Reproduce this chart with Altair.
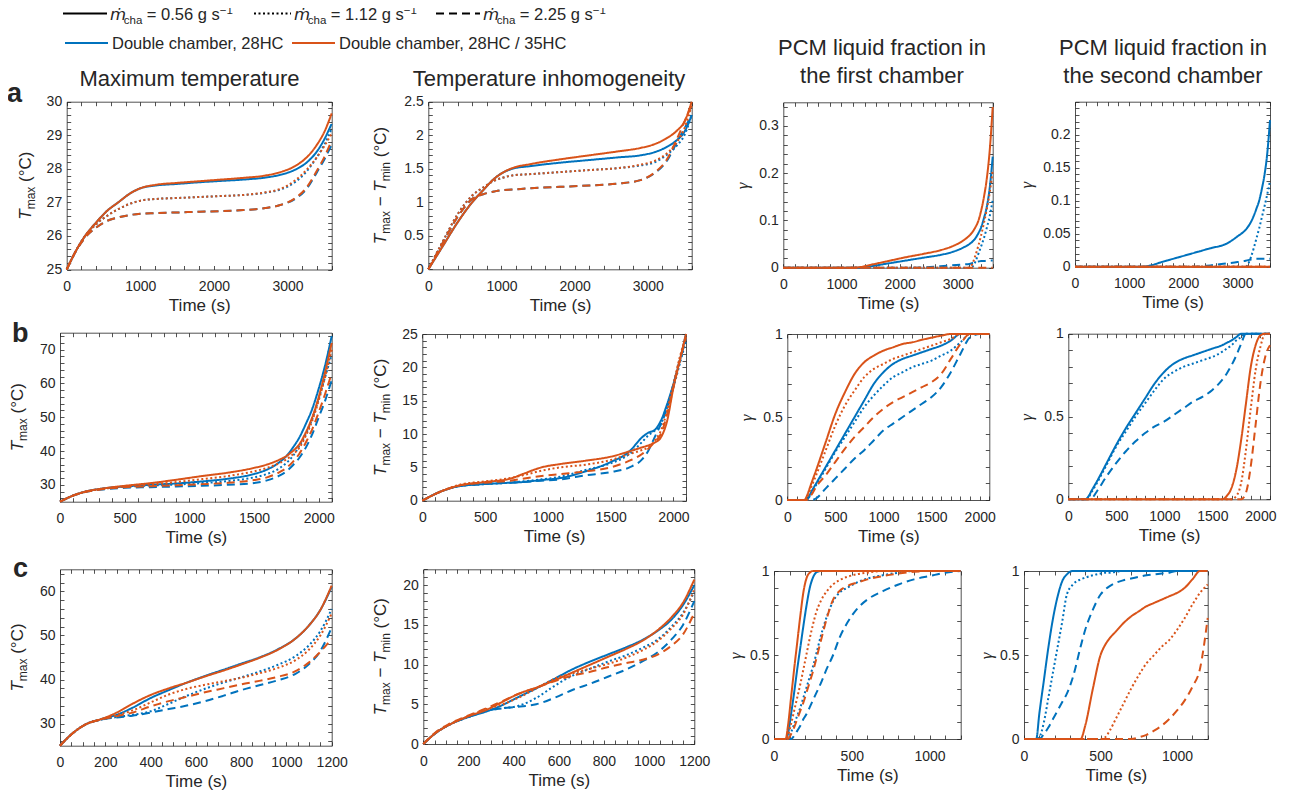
import altair as alt
import pandas as pd

# ---------------------------------------------------------------- data
CASES = ["Double chamber, 28HC", "Double chamber, 28HC / 35HC"]
FLOWS = ["0.56", "1.12", "2.25"]

# Row a : maximum temperature (degC)
A1_TIME = [0, 100, 250, 400, 550, 700, 850, 1000, 1200, 1500, 1800, 2100, 2400, 2700, 2900, 3100, 3250, 3400, 3500, 3600]
A1_BLUE_056 = [25, 25.45, 26.0, 26.4, 26.75, 27.0, 27.25, 27.42, 27.5, 27.55, 27.6, 27.64, 27.68, 27.74, 27.82, 27.97, 28.17, 28.52, 28.88, 29.35]
A1_BLUE_112 = [25, 25.45, 26.0, 26.35, 26.6, 26.8, 26.95, 27.05, 27.1, 27.13, 27.16, 27.19, 27.22, 27.29, 27.38, 27.6, 27.9, 28.35, 28.72, 29.2]
A1_BLUE_225 = [25, 25.45, 25.95, 26.25, 26.45, 26.55, 26.62, 26.66, 26.68, 26.7, 26.72, 26.74, 26.77, 26.83, 26.92, 27.1, 27.38, 27.9, 28.28, 28.72]
A1_ORNG_056 = [25, 25.45, 26.0, 26.4, 26.75, 27.0, 27.25, 27.42, 27.52, 27.58, 27.63, 27.68, 27.73, 27.8, 27.9, 28.08, 28.32, 28.72, 29.1, 29.65]
A1_ORNG_112 = [25, 25.45, 26.0, 26.35, 26.6, 26.8, 26.95, 27.05, 27.1, 27.13, 27.16, 27.19, 27.22, 27.3, 27.4, 27.65, 27.95, 28.35, 28.68, 29.05]
A1_ORNG_225 = [25, 25.45, 25.95, 26.25, 26.45, 26.55, 26.62, 26.66, 26.68, 26.7, 26.72, 26.74, 26.77, 26.83, 26.92, 27.12, 27.42, 27.95, 28.35, 28.85]

# Row a : temperature inhomogeneity (degC)
A2_TIME = [0, 200, 400, 600, 750, 900, 1000, 1150, 1400, 1800, 2200, 2600, 2900, 3100, 3250, 3400, 3500, 3600]
A2_BLUE_056 = [0, 0.35, 0.7, 1.0, 1.18, 1.35, 1.43, 1.5, 1.54, 1.59, 1.63, 1.67, 1.7, 1.75, 1.82, 1.93, 2.05, 2.3]
A2_BLUE_112 = [0, 0.42, 0.82, 1.1, 1.22, 1.32, 1.36, 1.4, 1.42, 1.45, 1.48, 1.51, 1.55, 1.6, 1.7, 1.85, 2.0, 2.3]
A2_BLUE_225 = [0, 0.4, 0.78, 1.05, 1.12, 1.16, 1.18, 1.19, 1.21, 1.23, 1.25, 1.28, 1.33, 1.44, 1.6, 1.9, 2.1, 2.3]
A2_ORNG_056 = [0, 0.35, 0.7, 1.0, 1.18, 1.35, 1.43, 1.51, 1.57, 1.64, 1.7, 1.76, 1.81, 1.87, 1.95, 2.07, 2.2, 2.5]
A2_ORNG_112 = [0, 0.42, 0.82, 1.1, 1.22, 1.32, 1.36, 1.4, 1.42, 1.45, 1.48, 1.51, 1.56, 1.62, 1.72, 1.9, 2.1, 2.45]
A2_ORNG_225 = [0, 0.4, 0.78, 1.05, 1.12, 1.16, 1.18, 1.19, 1.21, 1.23, 1.25, 1.28, 1.33, 1.45, 1.62, 1.95, 2.2, 2.45]

# Row a : liquid fraction, first chamber
A3_TIME = [0, 1200, 1300, 1500, 1800, 2100, 2400, 2700, 2900, 3100, 3200, 3250, 3300, 3350, 3400, 3450, 3500, 3550, 3600]
A3_BLUE_056 = [0, 0, 0, 0.003, 0.009, 0.015, 0.021, 0.027, 0.033, 0.043, 0.05, 0.055, 0.062, 0.072, 0.085, 0.105, 0.13, 0.17, 0.235]
A3_BLUE_112 = [0, 0, 0, 0, 0, 0, 0, 0, 0, 0, 0, 0.002, 0.012, 0.028, 0.045, 0.063, 0.085, 0.11, 0.143]
A3_BLUE_225 = [0, 0, 0, 0, 0, 0, 0.0005, 0.003, 0.005, 0.007, 0.008, 0.01, 0.012, 0.013, 0.014, 0.014, 0.015, 0.015, 0.015]
A3_ORNG_056 = [0, 0, 0.001, 0.006, 0.014, 0.022, 0.029, 0.037, 0.045, 0.058, 0.068, 0.075, 0.085, 0.098, 0.12, 0.15, 0.19, 0.25, 0.34]
A3_ORNG_112 = [0, 0, 0, 0, 0, 0, 0, 0, 0, 0, 0, 0.008, 0.025, 0.045, 0.068, 0.095, 0.125, 0.16, 0.207]
A3_ORNG_225 = [0, 0, 0, 0, 0, 0, 0, 0, 0, 0, 0, 0, 0, 0, 0, 0, 0, 0, 0]

# Row a : liquid fraction, second chamber
A4_TIME = [0, 1250, 1400, 1600, 1900, 2200, 2500, 2800, 3000, 3150, 3250, 3300, 3350, 3400, 3450, 3500, 3550, 3600]
A4_BLUE_056 = [0, 0, 0.002, 0.007, 0.014, 0.021, 0.028, 0.035, 0.046, 0.056, 0.068, 0.077, 0.088, 0.1, 0.118, 0.14, 0.172, 0.222]
A4_BLUE_112 = [0, 0, 0, 0, 0, 0, 0, 0, 0, 0, 0.015, 0.028, 0.043, 0.058, 0.075, 0.092, 0.11, 0.13]
A4_BLUE_225 = [0, 0, 0, 0, 0, 0, 0.002, 0.005, 0.007, 0.009, 0.011, 0.012, 0.012, 0.012, 0.012, 0.012, 0.012, 0.012]
A4_ORNG_056 = [0, 0, 0, 0, 0, 0, 0, 0, 0, 0, 0, 0, 0, 0, 0, 0, 0, 0]
A4_ORNG_112 = [0, 0, 0, 0, 0, 0, 0, 0, 0, 0, 0, 0, 0, 0, 0, 0, 0, 0]
A4_ORNG_225 = [0, 0, 0, 0, 0, 0, 0, 0, 0, 0, 0, 0, 0, 0, 0, 0, 0, 0]

# Row b : maximum temperature
B1_TIME = [0, 100, 200, 350, 500, 700, 900, 1100, 1300, 1500, 1600, 1700, 1750, 1800, 1850, 1900, 1950, 2000, 2050, 2100]
B1_BLUE_056 = [25, 26.8, 28.0, 29.0, 29.5, 30.0, 30.4, 31.0, 31.8, 33.2, 34.5, 36.8, 38.5, 41.0, 44.0, 48.0, 52.5, 58.5, 65.5, 74.0]
B1_BLUE_112 = [25, 26.8, 28.0, 28.9, 29.4, 29.8, 30.1, 30.5, 31.1, 32.2, 33.2, 35.0, 36.5, 38.5, 41.5, 45.0, 49.5, 55.5, 62.0, 68.5]
B1_BLUE_225 = [25, 26.8, 27.9, 28.7, 29.1, 29.3, 29.5, 29.7, 30.0, 30.5, 31.3, 32.8, 34.0, 35.8, 38.0, 41.0, 45.0, 50.0, 55.0, 61.0]
B1_ORNG_056 = [25, 26.8, 28.0, 29.0, 29.7, 30.5, 31.5, 32.6, 33.6, 35.0, 36.0, 37.5, 38.5, 40.0, 42.0, 45.5, 50.0, 56.0, 63.5, 72.0]
B1_ORNG_112 = [25, 26.8, 28.0, 28.9, 29.5, 30.1, 30.8, 31.7, 32.6, 34.0, 35.0, 36.5, 37.5, 39.0, 41.0, 44.5, 49.0, 55.0, 62.0, 70.0]
B1_ORNG_225 = [25, 26.8, 27.9, 28.8, 29.3, 29.6, 29.9, 30.2, 30.6, 31.4, 32.2, 33.8, 35.0, 36.8, 39.2, 42.5, 46.5, 51.5, 57.0, 63.0]

# Row b : temperature inhomogeneity
B2_TIME = [0, 150, 300, 500, 700, 800, 950, 1100, 1300, 1500, 1650, 1750, 1800, 1850, 1900, 1950, 2000, 2050, 2100]
B2_BLUE_056 = [0, 1.4, 2.2, 2.5, 2.7, 2.8, 3.1, 3.4, 4.4, 5.8, 7.4, 9.5, 10.2, 10.6, 12.0, 14.5, 17.5, 21.0, 25.0]
B2_BLUE_112 = [0, 1.4, 2.2, 2.5, 2.7, 2.9, 3.2, 3.6, 4.6, 5.6, 7.0, 8.8, 9.8, 10.5, 11.5, 14.0, 17.0, 20.5, 24.0]
B2_BLUE_225 = [0, 1.4, 2.2, 2.5, 2.7, 2.8, 3.0, 3.2, 3.8, 4.3, 5.0, 6.2, 7.5, 9.5, 11.5, 14.0, 17.5, 21.0, 24.5]
B2_ORNG_056 = [0, 1.4, 2.3, 2.8, 3.3, 4.0, 5.0, 5.5, 6.0, 6.6, 7.4, 8.0, 8.3, 8.7, 9.5, 12.0, 17.0, 21.0, 25.0]
B2_ORNG_112 = [0, 1.4, 2.4, 2.9, 3.4, 3.8, 4.5, 5.0, 5.4, 6.1, 7.0, 7.6, 8.0, 9.0, 10.5, 13.5, 17.5, 21.5, 24.5]
B2_ORNG_225 = [0, 1.4, 2.3, 2.7, 3.0, 3.3, 3.7, 4.0, 4.4, 5.0, 6.0, 7.0, 7.8, 8.8, 10.0, 13.0, 17.0, 21.0, 24.5]

# Row b : liquid fraction, first chamber
B3_TIME = [0, 180, 200, 250, 300, 400, 500, 600, 700, 800, 900, 1000, 1100, 1200, 1300, 1400, 1500, 1600, 1700, 1800, 1900, 2000, 2100]
B3_BLUE_056 = [0, 0, 0, 0.05, 0.1, 0.2, 0.3, 0.4, 0.5, 0.6, 0.7, 0.77, 0.82, 0.85, 0.87, 0.89, 0.91, 0.93, 0.96, 1.0, 1, 1, 1]
B3_BLUE_112 = [0, 0, 0, 0.04, 0.09, 0.19, 0.29, 0.38, 0.47, 0.56, 0.63, 0.69, 0.74, 0.77, 0.8, 0.82, 0.84, 0.87, 0.9, 0.95, 1.0, 1, 1]
B3_BLUE_225 = [0, 0, 0, 0, 0.01, 0.07, 0.13, 0.19, 0.25, 0.3, 0.36, 0.42, 0.46, 0.5, 0.54, 0.58, 0.62, 0.68, 0.77, 0.88, 0.98, 1, 1]
B3_ORNG_056 = [0, 0, 0.02, 0.1, 0.18, 0.35, 0.52, 0.65, 0.76, 0.83, 0.87, 0.9, 0.92, 0.94, 0.95, 0.965, 0.978, 0.99, 1, 1, 1, 1, 1]
B3_ORNG_112 = [0, 0, 0.01, 0.08, 0.15, 0.3, 0.45, 0.57, 0.66, 0.74, 0.79, 0.82, 0.85, 0.87, 0.89, 0.91, 0.93, 0.95, 0.97, 1.0, 1, 1, 1]
B3_ORNG_225 = [0, 0, 0, 0.03, 0.08, 0.15, 0.23, 0.31, 0.38, 0.44, 0.5, 0.55, 0.59, 0.62, 0.65, 0.68, 0.71, 0.76, 0.85, 0.94, 1.0, 1, 1]

# Row b : liquid fraction, second chamber
B4_TIME = [0, 180, 200, 250, 300, 400, 500, 600, 700, 800, 900, 1000, 1100, 1200, 1300, 1400, 1500, 1600, 1650, 1700, 1750, 1800, 1850, 1900, 1950, 2000, 2050, 2100]
B4_BLUE_056 = [0, 0, 0.01, 0.06, 0.11, 0.22, 0.33, 0.43, 0.52, 0.61, 0.7, 0.77, 0.82, 0.85, 0.87, 0.89, 0.91, 0.93, 0.945, 0.96, 0.98, 1, 1, 1, 1, 1, 1, 1]
B4_BLUE_112 = [0, 0, 0.005, 0.05, 0.1, 0.21, 0.32, 0.41, 0.5, 0.58, 0.66, 0.73, 0.77, 0.8, 0.82, 0.84, 0.86, 0.89, 0.91, 0.93, 0.96, 0.98, 1, 1, 1, 1, 1, 1]
B4_BLUE_225 = [0, 0, 0, 0.01, 0.05, 0.14, 0.22, 0.29, 0.35, 0.4, 0.44, 0.47, 0.51, 0.55, 0.59, 0.62, 0.66, 0.72, 0.76, 0.81, 0.87, 0.94, 1, 1, 1, 1, 1, 1]
B4_ORNG_056 = [0, 0, 0, 0, 0, 0, 0, 0, 0, 0, 0, 0, 0, 0, 0, 0, 0, 0, 0.02, 0.07, 0.18, 0.36, 0.58, 0.8, 0.93, 0.99, 1, 1]
B4_ORNG_112 = [0, 0, 0, 0, 0, 0, 0, 0, 0, 0, 0, 0, 0, 0, 0, 0, 0, 0, 0, 0, 0.02, 0.1, 0.3, 0.55, 0.78, 0.92, 1, 1]
B4_ORNG_225 = [0, 0, 0, 0, 0, 0, 0, 0, 0, 0, 0, 0, 0, 0, 0, 0, 0, 0, 0, 0, 0, 0, 0.04, 0.2, 0.45, 0.7, 0.86, 0.93]

# Row c : maximum temperature
C1_TIME = [0, 60, 120, 180, 250, 320, 400, 480, 560, 640, 720, 800, 880, 960, 1040, 1100, 1150, 1200]
C1_BLUE_056 = [25, 28.0, 30.0, 31.0, 32.0, 33.6, 35.8, 37.6, 39.3, 40.8, 42.2, 43.6, 45.0, 46.8, 49.3, 52.3, 55.8, 61.0]
C1_BLUE_112 = [25, 28.0, 30.0, 30.9, 31.5, 32.0, 32.8, 34.5, 36.3, 37.9, 39.3, 40.5, 41.8, 43.3, 45.3, 47.8, 51.0, 56.0]
C1_BLUE_225 = [25, 28.0, 30.0, 30.9, 31.4, 31.8, 32.5, 33.3, 34.1, 35.1, 36.3, 37.6, 38.7, 39.8, 41.3, 43.5, 46.5, 51.8]
C1_ORNG_056 = [25, 28.0, 30.0, 31.0, 32.5, 34.5, 36.5, 38.0, 39.3, 40.7, 42.0, 43.4, 44.9, 46.7, 49.3, 52.3, 55.8, 61.3]
C1_ORNG_112 = [25, 28.0, 30.0, 31.0, 31.9, 33.0, 34.8, 36.6, 37.9, 38.8, 39.6, 40.4, 41.4, 42.6, 44.4, 46.8, 50.0, 55.0]
C1_ORNG_225 = [25, 28.0, 30.0, 30.9, 31.7, 32.5, 33.9, 35.1, 36.1, 37.1, 38.0, 38.9, 39.7, 40.6, 41.9, 43.9, 46.3, 49.3]

# Row c : temperature inhomogeneity
C2_TIME = [0, 60, 120, 200, 280, 350, 420, 500, 580, 660, 740, 820, 900, 970, 1040, 1100, 1150, 1200]
C2_BLUE_056 = [0, 1.5, 2.5, 3.4, 4.1, 4.9, 5.9, 7.0, 8.2, 9.4, 10.4, 11.3, 12.2, 13.1, 14.3, 15.7, 17.5, 20.0]
C2_BLUE_112 = [0, 1.5, 2.5, 3.4, 4.2, 4.5, 4.8, 5.8, 7.3, 8.6, 9.5, 10.4, 11.2, 12.1, 13.2, 14.8, 16.5, 19.2]
C2_BLUE_225 = [0, 1.5, 2.5, 3.4, 4.2, 4.5, 4.7, 5.0, 5.8, 6.8, 7.6, 8.5, 9.4, 10.4, 11.6, 13.2, 15.0, 18.0]
C2_ORNG_056 = [0, 1.5, 2.5, 3.5, 4.3, 5.3, 6.3, 7.1, 8.0, 9.0, 10.0, 11.0, 12.0, 13.0, 14.4, 16.0, 17.8, 20.7]
C2_ORNG_112 = [0, 1.5, 2.5, 3.5, 4.4, 5.0, 5.8, 7.0, 8.2, 8.9, 9.5, 10.1, 10.9, 11.8, 13.0, 14.6, 16.3, 19.5]
C2_ORNG_225 = [0, 1.6, 2.6, 3.6, 4.5, 5.4, 6.3, 7.1, 7.9, 8.6, 9.1, 9.7, 10.2, 10.6, 11.3, 12.4, 13.8, 16.5]

# Row c : liquid fraction, first chamber
C3_TIME = [0, 75, 90, 110, 130, 150, 170, 190, 210, 230, 250, 270, 300, 340, 380, 420, 470, 530, 600, 700, 800, 900, 1000, 1100, 1200]
C3_BLUE_056 = [0, 0, 0.03, 0.15, 0.28, 0.42, 0.55, 0.68, 0.8, 0.9, 0.96, 0.99, 1, 1, 1, 1, 1, 1, 1, 1, 1, 1, 1, 1, 1]
C3_BLUE_112 = [0, 0, 0, 0.04, 0.09, 0.14, 0.19, 0.25, 0.31, 0.37, 0.43, 0.5, 0.61, 0.73, 0.82, 0.87, 0.9, 0.93, 0.955, 0.975, 0.99, 1, 1, 1, 1]
C3_BLUE_225 = [0, 0, 0, 0, 0.02, 0.05, 0.08, 0.12, 0.15, 0.19, 0.23, 0.27, 0.33, 0.42, 0.5, 0.6, 0.69, 0.77, 0.83, 0.88, 0.92, 0.95, 0.97, 0.99, 1]
C3_ORNG_056 = [0, 0, 0.08, 0.25, 0.42, 0.58, 0.74, 0.88, 0.96, 0.99, 1, 1, 1, 1, 1, 1, 1, 1, 1, 1, 1, 1, 1, 1, 1]
C3_ORNG_112 = [0, 0, 0.02, 0.09, 0.17, 0.25, 0.33, 0.42, 0.51, 0.6, 0.68, 0.75, 0.82, 0.88, 0.92, 0.945, 0.965, 0.98, 0.99, 1, 1, 1, 1, 1, 1]
C3_ORNG_225 = [0, 0, 0, 0.03, 0.07, 0.12, 0.17, 0.22, 0.28, 0.34, 0.4, 0.47, 0.58, 0.72, 0.83, 0.88, 0.91, 0.93, 0.95, 0.97, 0.985, 0.995, 1, 1, 1]

# Row c : liquid fraction, second chamber
C4_TIME = [0, 80, 100, 130, 160, 190, 220, 250, 280, 320, 370, 400, 450, 500, 530, 560, 600, 650, 700, 750, 800, 850, 900, 950, 1000, 1050, 1100, 1150, 1200]
C4_BLUE_056 = [0, 0, 0.15, 0.35, 0.55, 0.72, 0.85, 0.94, 0.98, 1, 1, 1, 1, 1, 1, 1, 1, 1, 1, 1, 1, 1, 1, 1, 1, 1, 1, 1, 1]
C4_BLUE_112 = [0, 0, 0.01, 0.1, 0.25, 0.4, 0.55, 0.7, 0.86, 0.92, 0.95, 0.96, 0.975, 0.985, 0.99, 0.99, 0.995, 1, 1, 1, 1, 1, 1, 1, 1, 1, 1, 1, 1]
C4_BLUE_225 = [0, 0, 0, 0.03, 0.07, 0.12, 0.17, 0.22, 0.27, 0.37, 0.55, 0.65, 0.77, 0.86, 0.89, 0.91, 0.93, 0.945, 0.955, 0.965, 0.975, 0.98, 0.985, 0.99, 1, 1, 1, 1, 1]
C4_ORNG_056 = [0, 0, 0, 0, 0, 0, 0, 0, 0, 0, 0, 0.08, 0.3, 0.5, 0.56, 0.6, 0.64, 0.69, 0.73, 0.76, 0.79, 0.81, 0.83, 0.85, 0.87, 0.9, 0.95, 1, 1]
C4_ORNG_112 = [0, 0, 0, 0, 0, 0, 0, 0, 0, 0, 0, 0, 0, 0, 0.01, 0.05, 0.12, 0.21, 0.3, 0.38, 0.45, 0.5, 0.55, 0.59, 0.65, 0.72, 0.8, 0.87, 0.92]
C4_ORNG_225 = [0, 0, 0, 0, 0, 0, 0, 0, 0, 0, 0, 0, 0, 0, 0, 0, 0, 0, 0, 0.01, 0.025, 0.05, 0.08, 0.12, 0.17, 0.23, 0.31, 0.42, 0.72]

# ---------------------------------------------------------------- style / layout
FONT = "Liberation Sans"
SERIF = "Liberation Serif"
INK = "#262626"
BLUE, ORANGE = "#0072BD", "#D95319"
DASHES = [[1, 0], [2, 2.5], [8, 5]]
W, H = 1278, 783
ORG = 8  # page margin


def rng(lo, hi, step):
    n = int(round((hi - lo) / step))
    return [round(lo + i * step, 6) for i in range(n + 1)]


PANELS = [
    dict(t=A1_TIME, s=[A1_BLUE_056, A1_BLUE_112, A1_BLUE_225, A1_ORNG_056, A1_ORNG_112, A1_ORNG_225],
         xd=[0, 3600], yd=[25, 30], box=(66.7, 331.7, 101.7, 269.5),
         xmaj=rng(0, 3000, 1000), xmin=rng(0, 3600, 200), ymaj=rng(25, 30, 1), ymin=rng(25, 30, 0.2)),
    dict(t=A2_TIME, s=[A2_BLUE_056, A2_BLUE_112, A2_BLUE_225, A2_ORNG_056, A2_ORNG_112, A2_ORNG_225],
         xd=[0, 3600], yd=[0, 2.5], box=(428.3, 691.7, 101.7, 269.3),
         xmaj=rng(0, 3000, 1000), xmin=rng(0, 3600, 200), ymaj=rng(0, 2.5, 0.5), ymin=rng(0, 2.5, 0.1)),
    dict(t=A3_TIME, s=[A3_BLUE_056, A3_BLUE_112, A3_BLUE_225, A3_ORNG_056, A3_ORNG_112, A3_ORNG_225],
         xd=[0, 3600], yd=[0, 0.35], box=(783.3, 992.7, 102.3, 267.7),
         xmaj=rng(0, 3000, 1000), xmin=rng(0, 3600, 200), ymaj=rng(0, 0.3, 0.1), ymin=rng(0, 0.34, 0.02)),
    dict(t=A4_TIME, s=[A4_BLUE_056, A4_BLUE_112, A4_BLUE_225, A4_ORNG_056, A4_ORNG_112, A4_ORNG_225],
         xd=[0, 3600], yd=[0, 0.25], box=(1075, 1270, 101.7, 266.7),
         xmaj=rng(0, 3000, 1000), xmin=rng(0, 3600, 200), ymaj=rng(0, 0.2, 0.05), ymin=rng(0, 0.25, 0.01)),
    dict(t=B1_TIME, s=[B1_BLUE_056, B1_BLUE_112, B1_BLUE_225, B1_ORNG_056, B1_ORNG_112, B1_ORNG_225],
         xd=[0, 2100], yd=[25, 75], box=(60, 331.7, 332.7, 501.7),
         xmaj=rng(0, 2000, 500), xmin=rng(0, 2100, 100), ymaj=rng(30, 70, 10), ymin=rng(26, 74, 2)),
    dict(t=B2_TIME, s=[B2_BLUE_056, B2_BLUE_112, B2_BLUE_225, B2_ORNG_056, B2_ORNG_112, B2_ORNG_225],
         xd=[0, 2100], yd=[0, 25], box=(422.3, 686, 334, 500.7),
         xmaj=rng(0, 2000, 500), xmin=rng(0, 2100, 100), ymaj=rng(0, 25, 5), ymin=rng(0, 25, 1)),
    dict(t=B3_TIME, s=[B3_BLUE_056, B3_BLUE_112, B3_BLUE_225, B3_ORNG_056, B3_ORNG_112, B3_ORNG_225],
         xd=[0, 2100], yd=[0, 1], box=(787.3, 989.3, 334, 500),
         xmaj=rng(0, 2000, 500), xmin=rng(0, 2100, 100), ymaj=rng(0, 1, 0.5), ymin=rng(0, 1, 0.1)),
    dict(t=B4_TIME, s=[B4_BLUE_056, B4_BLUE_112, B4_BLUE_225, B4_ORNG_056, B4_ORNG_112, B4_ORNG_225],
         xd=[0, 2100], yd=[0, 1], box=(1068.3, 1270, 333.7, 499.3),
         xmaj=rng(0, 2000, 500), xmin=rng(0, 2100, 100), ymaj=rng(0, 1, 0.5), ymin=rng(0, 1, 0.1)),
    dict(t=C1_TIME, s=[C1_BLUE_056, C1_BLUE_112, C1_BLUE_225, C1_ORNG_056, C1_ORNG_112, C1_ORNG_225],
         xd=[0, 1200], yd=[25, 65], box=(60, 331.7, 569.3, 745.7),
         xmaj=rng(0, 1200, 200), xmin=rng(0, 1200, 50), ymaj=rng(30, 60, 10), ymin=rng(26, 64, 2)),
    dict(t=C2_TIME, s=[C2_BLUE_056, C2_BLUE_112, C2_BLUE_225, C2_ORNG_056, C2_ORNG_112, C2_ORNG_225],
         xd=[0, 1200], yd=[0, 22], box=(423.3, 694.3, 569.3, 744),
         xmaj=rng(0, 1200, 200), xmin=rng(0, 1200, 50), ymaj=rng(0, 20, 5), ymin=rng(0, 22, 1)),
    dict(t=C3_TIME, s=[C3_BLUE_056, C3_BLUE_112, C3_BLUE_225, C3_ORNG_056, C3_ORNG_112, C3_ORNG_225],
         xd=[0, 1200], yd=[0, 1], box=(774, 960.7, 571, 739),
         xmaj=rng(0, 1000, 500), xmin=rng(0, 1200, 100), ymaj=rng(0, 1, 0.5), ymin=rng(0, 1, 0.1)),
    dict(t=C4_TIME, s=[C4_BLUE_056, C4_BLUE_112, C4_BLUE_225, C4_ORNG_056, C4_ORNG_112, C4_ORNG_225],
         xd=[0, 1200], yd=[0, 1], box=(1024, 1207.7, 571, 739),
         xmaj=rng(0, 1000, 500), xmin=rng(0, 1200, 100), ymaj=rng(0, 1, 0.5), ymin=rng(0, 1, 0.1)),
]

LAB = dict(ticks=False, tickSize=0, domain=True, domainColor=INK, domainWidth=0.8, labels=True,
           labelFont=FONT, labelFontSize=14, labelColor=INK, labelExpr="toString(datum.value)", grid=False,
           labelFlush=False, labelOverlap=False)
TK = dict(ticks=True, tickSize=4, tickWidth=0.8, tickColor=INK, domainColor=INK, domainWidth=0.8,
          labels=False, grid=False, title="")
COLOR = alt.Color("case:N", scale=alt.Scale(domain=CASES, range=[BLUE, ORANGE]), legend=None)
DASH = alt.StrokeDash("flow:N", scale=alt.Scale(domain=FLOWS, range=DASHES), legend=None)


def panel_layers(p):
    L, R, T, B = [v - ORG for v in p["box"]]
    xs = alt.Scale(domain=p["xd"], range=[L, R], nice=False, zero=False)
    ys = alt.Scale(domain=p["yd"], range=[B, T], nice=False, zero=False)
    rows = []
    for k, vals in enumerate(p["s"]):
        for tt, vv in zip(p["t"], vals):
            rows.append(dict(t=tt, v=vv, case=CASES[k // 3], flow=FLOWS[k % 3], key=str(k)))
    df = pd.DataFrame(rows)
    lines = alt.Chart(df).mark_line(strokeWidth=2, interpolate="monotone", strokeCap="butt").encode(
        x=alt.X("t:Q", scale=xs, axis=alt.Axis(orient="bottom", offset=B - H, values=p["xmaj"], labelPadding=10,
                                                title="Time (s)", titleFont=FONT, titleFontSize=17,
                                                titleFontWeight="normal", titleColor=INK, titlePadding=4, **LAB)),
        y=alt.Y("v:Q", scale=ys, axis=alt.Axis(orient="left", offset=-L, values=p["ymaj"], labelPadding=5,
                                                title="", **LAB)),
        color=COLOR, strokeDash=DASH, detail="key:N")
    box = pd.DataFrame({"t": p["xd"], "v": p["yd"]})
    f1 = alt.Chart(box).mark_point(opacity=0).encode(
        x=alt.X("t:Q", scale=xs, axis=alt.Axis(orient="top", offset=-B, values=p["xmin"], domain=False, **TK)),
        y=alt.Y("v:Q", scale=ys, axis=alt.Axis(orient="right", offset=L - W, values=p["ymin"], domain=False, **TK)))
    f2 = alt.Chart(box).mark_point(opacity=0).encode(
        x=alt.X("t:Q", scale=xs, axis=alt.Axis(orient="bottom", offset=T - H, values=p["xmin"], domain=True, **TK)),
        y=alt.Y("v:Q", scale=ys, axis=alt.Axis(orient="left", offset=-R, values=p["ymin"], domain=True, **TK)))
    return [lines, f1, f2]


# ---------------------------------------------------------------- text
AW = {' ': 278, '(': 333, ')': 333, '°': 400, '−': 584, '=': 584, '.': 278, ',': 278, '/': 278,
      'a': 556, 'b': 556, 'c': 500, 'd': 556, 'e': 556, 'f': 278, 'g': 556, 'h': 556, 'i': 222,
      'l': 222, 'm': 833, 'n': 556, 'o': 556, 'p': 556, 'q': 556, 'r': 333, 's': 500, 't': 278,
      'u': 556, 'x': 500, 'y': 500, 'C': 722, 'D': 722, 'H': 722, 'M': 833, 'P': 667, 'T': 611,
      'ṁ': 833, 'γ': 500}


def tw(s, fs):
    return sum(AW.get(ch, 556) for ch in s) * fs / 1000.0


TEXT_ROWS = []


def add_rich(pieces, x, y, angle=0, center=True):
    total = sum(tw(s, fs) for s, fs, st, sh in pieces)
    pos = -total / 2 if center else 0.0
    for s, fs, st, sh in pieces:
        lead = len(s) - len(s.lstrip(' '))
        off = pos + tw(' ' * lead, fs)
        if st == "c":
            off = 0.0
        txt = s.strip(' ')
        if angle == 0:
            TEXT_ROWS.append(dict(px=x + off - ORG, py=y + sh - ORG, txt=txt, fs=fs, ang=0, st=st))
        else:
            TEXT_ROWS.append(dict(px=x + sh - ORG, py=y - off - ORG, txt=txt, fs=fs, ang=270, st=st))
        pos += tw(s, fs)


# column titles
add_rich([("Maximum temperature", 22, "c", 0)], 189.5, 86)
add_rich([("Temperature inhomogeneity", 22, "c", 0)], 549, 86)
add_rich([("PCM liquid fraction in", 22, "c", 0)], 882, 55)
add_rich([("the first chamber", 22, "c", 0)], 882, 83)
add_rich([("PCM liquid fraction in", 22, "c", 0)], 1163, 55)
add_rich([("the second chamber", 22, "c", 0)], 1163, 83)

# row letters
add_rich([("a", 27, "b", 0)], 7, 102, center=False)
add_rich([("b", 27, "b", 0)], 12, 342, center=False)
add_rich([("c", 27, "b", 0)], 13, 577, center=False)

# y-axis titles
TMAX = [("T", 17, "i", 0), ("max", 12, "n", 4), (" (°C)", 17, "n", 0)]
TDIF = [("T", 17, "i", 0), ("max", 12, "n", 4), (" − ", 17, "n", 0), ("T", 17, "i", 0), ("min", 12, "n", 4),
        (" (°C)", 17, "n", 0)]
GAM = [("γ", 17, "g", 0)]
YTITLES = [(TMAX, 30.5), (TDIF, 385.5), (GAM, 747.5), (GAM, 1032),
           (TMAX, 22.5), (TDIF, 385.5), (GAM, 752), (GAM, 1032),
           (TMAX, 22.5), (TDIF, 385.5), (GAM, 741), (GAM, 992)]
for p, (pieces, bx) in zip(PANELS, YTITLES):
    cy = (p["box"][2] + p["box"][3]) / 2
    add_rich(pieces, bx, cy, angle=270)

# legend
LEG1_Y = 13.5
LEG2_Y = 43
LEG1 = [(63, 107, "0.56", DASHES[0]), (254, 291, "1.12", DASHES[1]), (436, 480, "2.25", DASHES[2])]
LEG2 = [(65, 108, CASES[0], BLUE), (292, 335, CASES[1], ORANGE)]
legend_layers = []
one = pd.DataFrame({"k": [0]})
for x0, x1, lab, dash in LEG1:
    legend_layers.append(alt.Chart(one).mark_rule(color="black", strokeWidth=2.2, strokeDash=dash, strokeCap="butt").encode(
        x=alt.value(x0 - ORG), x2=alt.value(x1 - ORG), y=alt.value(LEG1_Y - ORG)))
    add_rich([("ṁ", 16.5, "d", 0), ("cha", 11.5, "n", 4), (" = " + lab + " g s", 16.5, "n", 0), ("−1", 11.5, "n", -6)],
             x1 + 3, LEG1_Y + 6, center=False)
for x0, x1, lab, col in LEG2:
    legend_layers.append(alt.Chart(one).mark_rule(color=col, strokeWidth=2.2).encode(
        x=alt.value(x0 - ORG), x2=alt.value(x1 - ORG), y=alt.value(LEG2_Y - ORG)))
    add_rich([(lab, 16.5, "n", 0)], x1 + 4, LEG2_Y + 6, center=False)

TEXT = pd.DataFrame(TEXT_ROWS)
STYLES = {
    "n": dict(font=FONT, align="left"),
    "i": dict(font=FONT, fontStyle="italic", align="left"),
    "d": dict(font="DejaVu Sans", fontStyle="italic", align="left"),
    "b": dict(font=FONT, fontWeight="bold", align="left"),
    "g": dict(font=SERIF, fontStyle="italic", align="left"),
    "c": dict(font=FONT, align="center"),
}
text_layers = []
for st, kw in STYLES.items():
    sub = TEXT[TEXT["st"] == st]
    if len(sub) == 0:
        continue
    text_layers.append(alt.Chart(sub).mark_text(baseline="alphabetic", color=INK, **kw).encode(
        x=alt.X("px:Q", scale=None, axis=None), y=alt.Y("py:Q", scale=None, axis=None),
        text="txt:N", size=alt.Size("fs:Q", scale=None, legend=None),
        angle=alt.Angle("ang:Q", scale=None, legend=None)))

layers = []
for p in PANELS:
    layers += panel_layers(p)
layers += legend_layers + text_layers

chart = alt.layer(*layers).resolve_scale(x="independent", y="independent").resolve_axis(
    x="independent", y="independent").properties(
    width=W, height=H, padding=0, autosize=alt.AutoSizeParams(type="none"), background="white"
).configure_view(stroke=None)

chart.save("out.html", embed_options={"renderer": "svg", "actions": False})
